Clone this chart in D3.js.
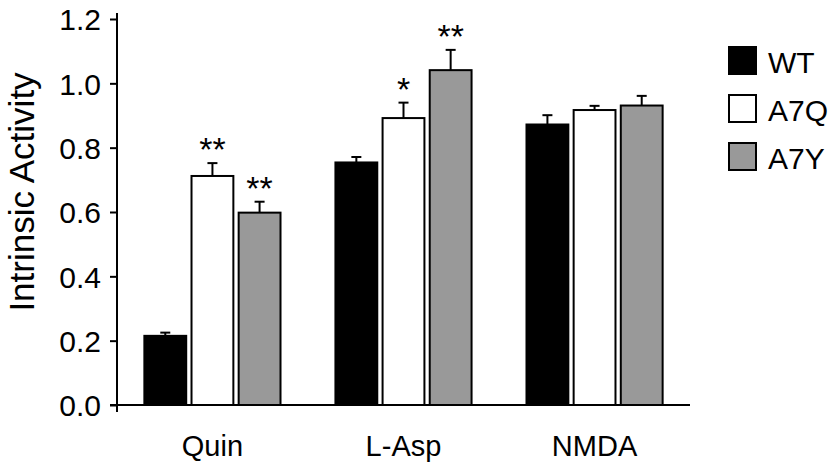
<!DOCTYPE html>
<html>
<head>
<meta charset="utf-8">
<script src="https://cdn.jsdelivr.net/npm/d3@7"></script>
<style>
  body { margin: 0; background: #fff; }
  text { font-family: "Liberation Sans", Arial, sans-serif; fill: #000; }
</style>
</head>
<body>
<script>
// data
const groups = ['Quin', 'L-Asp', 'NMDA'];
const series = ['WT', 'A7Q', 'A7Y'];
const colors = ['#000000', '#ffffff', '#999999'];

const wtMean  = [0.215, 0.754, 0.872];
const a7qMean = [0.712, 0.892, 0.917];
const a7yMean = [0.598, 1.041, 0.931];

const wtErr  = [0.010, 0.017, 0.029];
const a7qErr = [0.040, 0.048, 0.013];
const a7yErr = [0.034, 0.063, 0.030];

const wtStars  = ['', '', ''];
const a7qStars = ['**', '*', ''];
const a7yStars = ['**', '**', ''];

const yTicks = [0, 0.2, 0.4, 0.6, 0.8, 1.0, 1.2];

const means = [wtMean, a7qMean, a7yMean];
const errs  = [wtErr, a7qErr, a7yErr];
const stars = [wtStars, a7qStars, a7yStars];

const width = 839, height = 469;
const margin = {top: 19, right: 149, bottom: 64, left: 117};

const svg = d3.select('body').append('svg')
    .attr('width', width)
    .attr('height', height);

const y = d3.scaleLinear()
    .domain([0, 1.2])
    .range([height - margin.bottom, margin.top]);

const x0 = d3.scaleBand()
    .domain(groups)
    .range([margin.left, width - margin.right])
    .paddingInner(0.277)
    .paddingOuter(0.138);

const x1 = d3.scaleBand()
    .domain(series)
    .range([0, x0.bandwidth()])
    .paddingInner(0.07);

// flat table of bars
const bars = [];
groups.forEach((g, gi) => {
  series.forEach((s, si) => {
    bars.push({group: g, series: s, color: colors[si],
               value: means[si][gi], err: errs[si][gi], star: stars[si][gi]});
  });
});

// y axis
const yAxis = svg.append('g')
    .attr('transform', `translate(${margin.left},0)`)
    .call(d3.axisLeft(y).tickValues(yTicks).tickFormat(d3.format('.1f')).tickSize(7).tickPadding(9));
yAxis.select('.domain').remove();
yAxis.selectAll('.tick line').attr('stroke', '#000').attr('stroke-width', 2);
yAxis.selectAll('.tick text').style('font-size', '30px').attr('dy', '0.36em');

svg.append('line')
    .attr('x1', margin.left).attr('x2', margin.left)
    .attr('y1', y(1.2) - 6).attr('y2', y(0) + 7)
    .attr('stroke', '#000').attr('stroke-width', 2);

// x axis line
svg.append('line')
    .attr('x1', margin.left - 7).attr('x2', width - margin.right)
    .attr('y1', y(0)).attr('y2', y(0))
    .attr('stroke', '#000').attr('stroke-width', 2);

// group labels
svg.selectAll('.glabel')
  .data(groups)
  .enter().append('text')
    .attr('class', 'glabel')
    .attr('x', d => x0(d) + x0.bandwidth() / 2)
    .attr('y', y(0) + 51)
    .attr('text-anchor', 'middle')
    .style('font-size', '29px')
    .text(d => d);

// y title
svg.append('text')
    .attr('transform', `translate(34,${(y(0) + y(1.2)) / 2 - 20}) rotate(-90)`)
    .attr('text-anchor', 'middle')
    .style('font-size', '35px')
    .text('Intrinsic Activity');

// error bars
const eb = svg.selectAll('.err')
  .data(bars)
  .enter().append('g')
    .attr('class', 'err')
    .attr('stroke', '#000')
    .attr('stroke-width', 2);

eb.append('line')
    .attr('x1', d => x0(d.group) + x1(d.series) + x1.bandwidth() / 2)
    .attr('x2', d => x0(d.group) + x1(d.series) + x1.bandwidth() / 2)
    .attr('y1', d => y(d.value))
    .attr('y2', d => y(d.value + d.err));

eb.append('line')
    .attr('x1', d => x0(d.group) + x1(d.series) + x1.bandwidth() / 2 - 5)
    .attr('x2', d => x0(d.group) + x1(d.series) + x1.bandwidth() / 2 + 5)
    .attr('y1', d => y(d.value + d.err))
    .attr('y2', d => y(d.value + d.err));

// bars
svg.selectAll('.bar')
  .data(bars)
  .enter().append('rect')
    .attr('class', 'bar')
    .attr('x', d => x0(d.group) + x1(d.series) + 1)
    .attr('y', d => y(d.value))
    .attr('width', x1.bandwidth() - 2)
    .attr('height', d => y(0) - y(d.value))
    .attr('fill', d => d.color)
    .attr('stroke', '#000')
    .attr('stroke-width', 2);

// significance stars
svg.selectAll('.star')
  .data(bars.filter(d => d.star))
  .enter().append('text')
    .attr('class', 'star')
    .attr('x', d => x0(d.group) + x1(d.series) + x1.bandwidth() / 2)
    .attr('y', d => y(d.value + d.err) - 2)
    .attr('text-anchor', 'middle')
    .style('font-size', '34px')
    .text(d => d.star);

// legend
const legend = svg.selectAll('.legend')
  .data(series)
  .enter().append('g')
    .attr('class', 'legend')
    .attr('transform', (d, i) => `translate(729,${47 + i * 48})`);

legend.append('rect')
    .attr('width', 27)
    .attr('height', 27)
    .attr('fill', (d, i) => colors[i])
    .attr('stroke', '#000')
    .attr('stroke-width', 2);

legend.append('text')
    .attr('x', 39)
    .attr('y', 26)
    .style('font-size', '30px')
    .text(d => d);
</script>
</body>
</html>
